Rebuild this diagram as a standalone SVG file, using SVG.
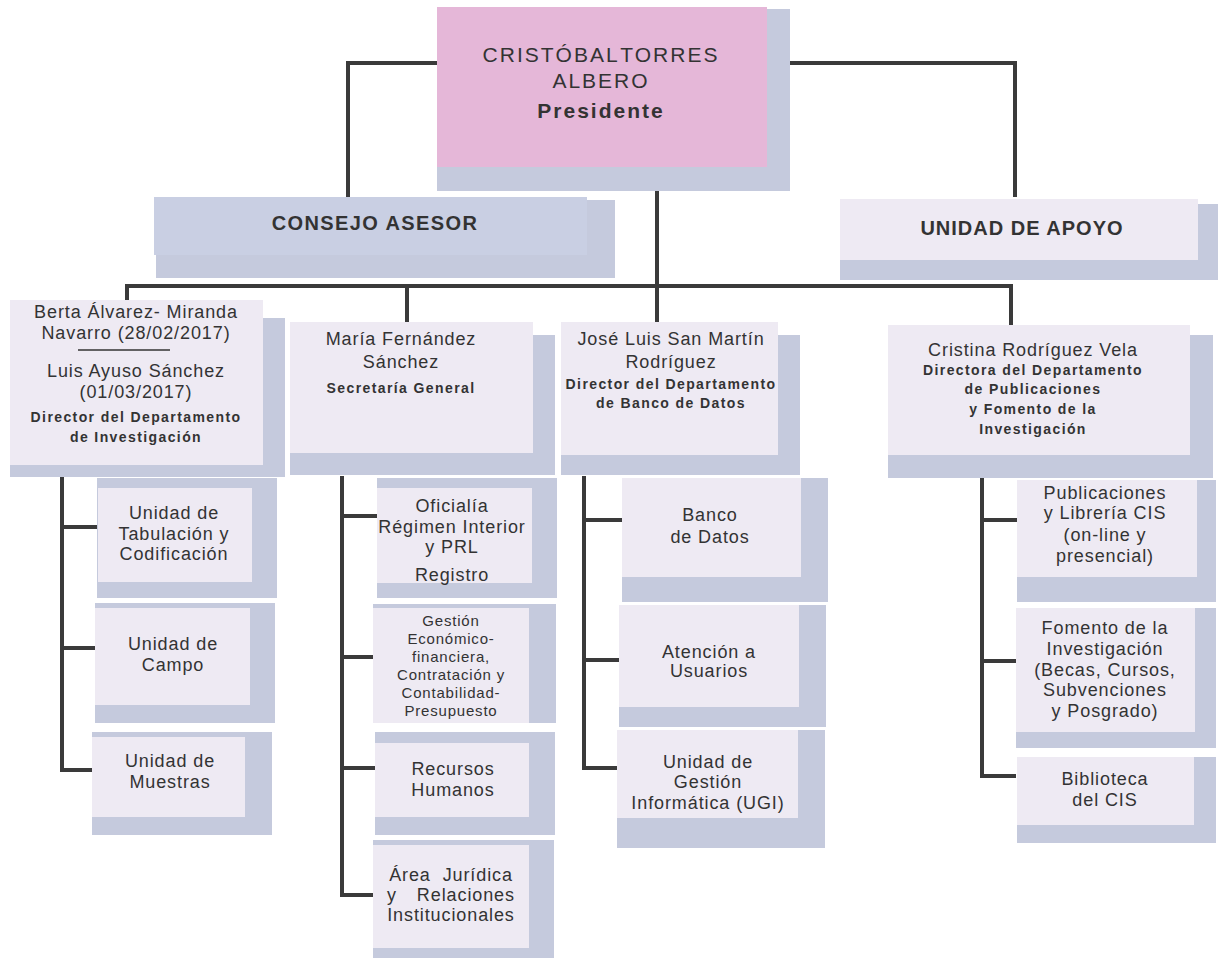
<svg xmlns="http://www.w3.org/2000/svg" width="1218" height="958" viewBox="0 0 1218 958">
<style>
.sh{fill:#c5cadd}
.lt{fill:#eeeaf3}
.pk{fill:#e5b7d8}
.cn{fill:#c9cfe3}
text{font-family:"Liberation Sans",Arial,sans-serif;fill:#333;text-anchor:middle}
.n{font-size:18px;letter-spacing:0.9px}
.t{font-size:14px;font-weight:bold;letter-spacing:1.4px}
.s{font-size:15px;letter-spacing:0.8px}
.c{fill:none;stroke:#3a3a3a;stroke-width:4}
</style>
<rect width="1218" height="958" fill="#fff"/>
<g id="connectors">
<polyline class="c" points="437,63 348,63 348,197"/>
<polyline class="c" points="790,63 1015,63 1015,197"/>
<line class="c" x1="657" y1="168" x2="657" y2="322"/>
<line class="c" x1="125" y1="286" x2="1013" y2="286"/>
<line class="c" x1="127" y1="284" x2="127" y2="300"/>
<line class="c" x1="407" y1="284" x2="407" y2="322"/>
<line class="c" x1="1011" y1="284" x2="1011" y2="325"/>
<polyline class="c" points="62,476 62,770 93,770"/>
<line class="c" x1="62" y1="527" x2="97" y2="527"/>
<line class="c" x1="62" y1="648" x2="95" y2="648"/>
<polyline class="c" points="342,476 342,895 373,895"/>
<line class="c" x1="342" y1="516" x2="377" y2="516"/>
<line class="c" x1="342" y1="657" x2="373" y2="657"/>
<line class="c" x1="342" y1="768" x2="375" y2="768"/>
<polyline class="c" points="584,476 584,768 618,768"/>
<line class="c" x1="584" y1="520" x2="622" y2="520"/>
<line class="c" x1="584" y1="660" x2="619" y2="660"/>
<polyline class="c" points="982,478 982,776 1016,776"/>
<line class="c" x1="982" y1="520" x2="1017" y2="520"/>
<line class="c" x1="982" y1="661" x2="1016" y2="661"/>
</g>
<g id="presidente">
<rect class="sh" x="437" y="9" width="353" height="182"/>
<rect class="pk" x="437" y="7" width="330" height="160"/>
<text x="601" y="62" font-size="21" letter-spacing="2" word-spacing="-6">CRISTÓBAL TORRES</text>
<text x="601" y="88" font-size="21" letter-spacing="2">ALBERO</text>
<text x="601" y="118" font-size="21" font-weight="bold" letter-spacing="2">Presidente</text>
</g>
<g id="consejo">
<rect class="sh" x="156" y="200" width="459" height="78"/>
<rect class="cn" x="154" y="197" width="433" height="58"/>
<text x="375" y="230" font-size="20" font-weight="bold" letter-spacing="1.4">CONSEJO ASESOR</text>
</g>
<g id="apoyo">
<rect class="sh" x="840" y="204" width="378" height="76"/>
<rect class="lt" x="840" y="199" width="358" height="61"/>
<text x="1022" y="235" font-size="20" font-weight="bold" letter-spacing="1">UNIDAD DE APOYO</text>
</g>
<g id="investigacion">
<rect class="sh" x="10" y="318" width="275" height="159"/>
<rect class="lt" x="10" y="300" width="253" height="165"/>
<text class="n" x="136" y="318">Berta Álvarez- Miranda</text>
<text class="n" x="136" y="339">Navarro (28/02/2017)</text>
<line x1="78" y1="350" x2="170" y2="350" stroke="#333" stroke-width="1.3"/>
<text class="n" x="136" y="377">Luis Ayuso Sánchez</text>
<text class="n" x="136" y="398">(01/03/2017)</text>
<text class="t" x="136" y="422">Director del Departamento</text>
<text class="t" x="136" y="442">de Investigación</text>
</g>
<g id="secretaria">
<rect class="sh" x="290" y="335" width="265" height="140"/>
<rect class="lt" x="290" y="322" width="243" height="131"/>
<text class="n" x="401" y="345">María Fernández</text>
<text class="n" x="401" y="368">Sánchez</text>
<text class="t" x="401" y="393" font-size="13" letter-spacing="0.8">Secretaría General</text>
</g>
<g id="bancodatos">
<rect class="sh" x="561" y="335" width="239" height="140"/>
<rect class="lt" x="561" y="322" width="217" height="133"/>
<text class="n" x="671" y="345">José Luis San Martín</text>
<text class="n" x="671" y="368">Rodríguez</text>
<text class="t" x="671" y="389">Director del Departamento</text>
<text class="t" x="671" y="408">de Banco de Datos</text>
</g>
<g id="publicaciones">
<rect class="sh" x="888" y="335" width="325" height="143"/>
<rect class="lt" x="888" y="325" width="302" height="130"/>
<text class="n" x="1033" y="356">Cristina Rodríguez Vela</text>
<text class="t" x="1033" y="375">Directora del Departamento</text>
<text class="t" x="1033" y="394">de Publicaciones</text>
<text class="t" x="1033" y="414">y Fomento de la</text>
<text class="t" x="1033" y="434">Investigación</text>
</g>
<g id="tabulacion">
<rect class="sh" x="97" y="478" width="180" height="120"/>
<rect class="lt" x="98" y="488" width="154" height="94"/>
<text class="n" x="174" y="519">Unidad de</text>
<text class="n" x="174" y="540">Tabulación y</text>
<text class="n" x="174" y="560">Codificación</text>
</g>
<g id="campo">
<rect class="sh" x="95" y="603" width="180" height="120"/>
<rect class="lt" x="95" y="608" width="155" height="97"/>
<text class="n" x="173" y="650">Unidad de</text>
<text class="n" x="173" y="671">Campo</text>
</g>
<g id="muestras">
<rect class="sh" x="92" y="732" width="180" height="103"/>
<rect class="lt" x="92" y="737" width="153" height="80"/>
<text class="n" x="170" y="767">Unidad de</text>
<text class="n" x="170" y="788">Muestras</text>
</g>
<g id="oficialia">
<rect class="sh" x="377" y="478" width="180" height="120"/>
<rect class="lt" x="377" y="488" width="155" height="95"/>
<text class="n" x="452" y="512">Oficialía</text>
<text class="n" x="452" y="533">Régimen Interior</text>
<text class="n" x="452" y="553">y PRL</text>
<text class="n" x="452" y="581">Registro</text>
</g>
<g id="gestion">
<rect class="sh" x="373" y="604" width="183" height="119"/>
<rect class="lt" x="373" y="608" width="156" height="115"/>
<text class="s" x="451" y="626">Gestión</text>
<text class="s" x="451" y="644">Económico-</text>
<text class="s" x="451" y="662">financiera,</text>
<text class="s" x="451" y="680">Contratación y</text>
<text class="s" x="451" y="698">Contabilidad-</text>
<text class="s" x="451" y="716">Presupuesto</text>
</g>
<g id="rrhh">
<rect class="sh" x="375" y="732" width="180" height="103"/>
<rect class="lt" x="375" y="743" width="154" height="74"/>
<text class="n" x="453" y="775">Recursos</text>
<text class="n" x="453" y="796">Humanos</text>
</g>
<g id="juridica">
<rect class="sh" x="373" y="840" width="181" height="118"/>
<rect class="lt" x="373" y="845" width="156" height="103"/>
<text class="n" x="451" y="881" word-spacing="6">Área Jurídica</text>
<text class="n" x="451" y="901" word-spacing="14">y Relaciones</text>
<text class="n" x="451" y="921">Institucionales</text>
</g>
<g id="banco">
<rect class="sh" x="622" y="478" width="206" height="124"/>
<rect class="lt" x="622" y="478" width="179" height="99"/>
<text class="n" x="710" y="521">Banco</text>
<text class="n" x="710" y="543">de Datos</text>
</g>
<g id="atencion">
<rect class="sh" x="619" y="605" width="207" height="122"/>
<rect class="lt" x="619" y="605" width="180" height="102"/>
<text class="n" x="709" y="658">Atención a</text>
<text class="n" x="709" y="677">Usuarios</text>
</g>
<g id="ugi">
<rect class="sh" x="617" y="730" width="208" height="118"/>
<rect class="lt" x="617" y="730" width="181" height="88"/>
<text class="n" x="708" y="768">Unidad de</text>
<text class="n" x="708" y="788">Gestión</text>
<text class="n" x="708" y="809">Informática (UGI)</text>
</g>
<g id="libreria">
<rect class="sh" x="1017" y="480" width="199" height="122"/>
<rect class="lt" x="1017" y="480" width="180" height="97"/>
<text class="n" x="1105" y="499">Publicaciones</text>
<text class="n" x="1105" y="519">y Librería CIS</text>
<text class="n" x="1105" y="541">(on-line y</text>
<text class="n" x="1105" y="562">presencial)</text>
</g>
<g id="fomento">
<rect class="sh" x="1016" y="608" width="200" height="140"/>
<rect class="lt" x="1016" y="608" width="179" height="124"/>
<text class="n" x="1105" y="634">Fomento de la</text>
<text class="n" x="1105" y="655">Investigación</text>
<text class="n" x="1105" y="676">(Becas, Cursos,</text>
<text class="n" x="1105" y="696">Subvenciones</text>
<text class="n" x="1105" y="717">y Posgrado)</text>
</g>
<g id="biblioteca">
<rect class="sh" x="1017" y="757" width="199" height="86"/>
<rect class="lt" x="1017" y="757" width="177" height="68"/>
<text class="n" x="1105" y="785">Biblioteca</text>
<text class="n" x="1105" y="806">del CIS</text>
</g>
</svg>
